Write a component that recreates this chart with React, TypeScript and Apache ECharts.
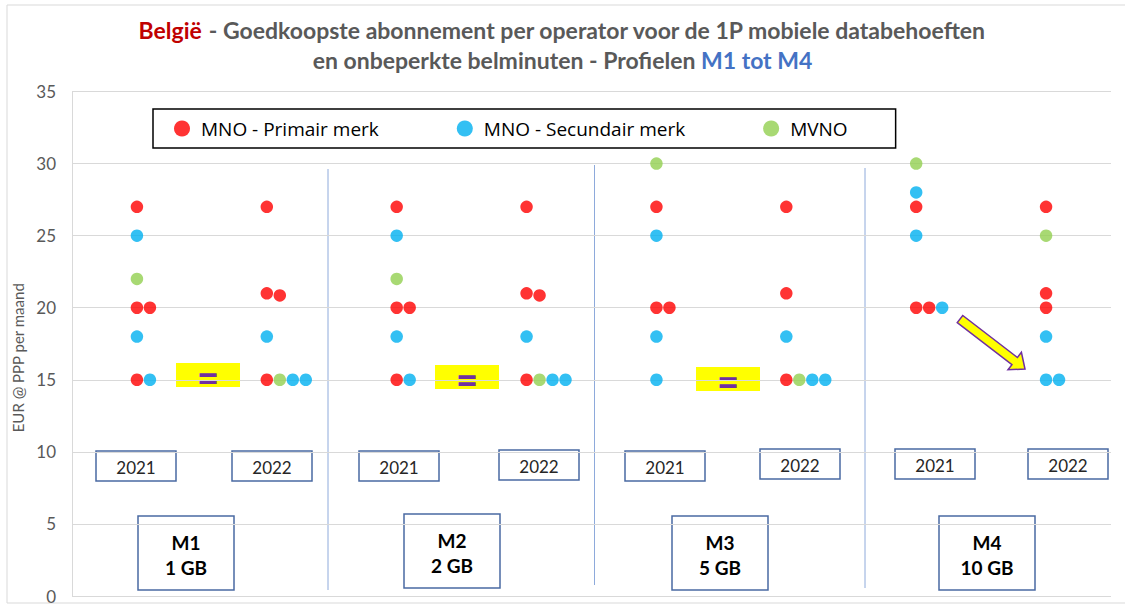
import React, { useEffect, useRef } from "react";
import * as echarts from "echarts";

// ---- data ----
const profiles = ["M1", "M2", "M3", "M4"];
const volumes = ["1 GB", "2 GB", "5 GB", "10 GB"];
const years = ["2021", "2022"];
const seriesNames = ["MNO - Primair merk", "MNO - Secundair merk", "MVNO"];
const seriesColors = ["#ff0000", "#00b0f0", "#92d050"];
// one list per column: M1-2021, M1-2022, M2-2021, M2-2022, M3-2021, M3-2022, M4-2021, M4-2022
const primair: number[][] = [
  [27, 20, 20, 15],
  [27, 21, 20.85, 15],
  [27, 20, 20, 15],
  [27, 21, 20.85, 15],
  [27, 20, 20],
  [27, 21, 15],
  [27, 20, 20],
  [27, 21, 20],
];
const secundair: number[][] = [
  [25, 18, 15],
  [18, 15, 15],
  [25, 18, 15],
  [18, 15, 15],
  [25, 18, 15],
  [18, 15, 15],
  [28, 25, 20],
  [18, 15, 15],
];
const mvno: number[][] = [[22], [15], [22], [15], [30], [15], [30], [25]];

// ---- build scatter points (dots with equal price sit side by side) ----
function buildPoints() {
  const out: number[][][] = [[], [], []];
  const order = [0, 2, 1]; // red, green, blue placement order within a row
  const src = [primair, secundair, mvno];
  for (let c = 0; c < primair.length; c++) {
    const count: Record<number, number> = {};
    for (const s of order) {
      for (const v of src[s][c]) {
        const k = Math.round(v);
        const idx = count[k] || 0;
        count[k] = idx + 1;
        out[s].push([c + 1 + idx * 0.1, v]);
      }
    }
  }
  return out;
}

function arrowPoints(x1: number, y1: number, x2: number, y2: number, shaft: number, headW: number, headL: number) {
  const dx = x2 - x1, dy = y2 - y1, L = Math.hypot(dx, dy);
  const ux = dx / L, uy = dy / L, nx = -uy, ny = ux;
  const bx = x2 - ux * headL, by = y2 - uy * headL;
  return [
    [x1 + (nx * shaft) / 2, y1 + (ny * shaft) / 2],
    [bx + (nx * shaft) / 2, by + (ny * shaft) / 2],
    [bx + (nx * headW) / 2, by + (ny * headW) / 2],
    [x2, y2],
    [bx - (nx * headW) / 2, by - (ny * headW) / 2],
    [bx - (nx * shaft) / 2, by - (ny * shaft) / 2],
    [x1 - (nx * shaft) / 2, y1 - (ny * shaft) / 2],
  ];
}

const boxColor = "#4a6aa2";
const yearBoxPos = [
  [96, 451], [232, 451], [359, 451], [499, 450], [625, 451], [760, 449], [895, 449], [1028, 449],
];
const profileBoxPos = [
  [138, 516], [404, 514], [672, 516], [939, 516],
];
const equalBoxPos = [
  [176, 363], [435, 365], [696, 367],
];
const dividerPos = [
  [328, 169, 590], [594.5, 165, 585], [865, 168, 588],
];

function buildGraphics() {
  const g: any[] = [];
  g.push({
    type: "rect", shape: { x: 7, y: 5, width: 1130, height: 598 },
    style: { fill: "none", stroke: "#d9d9d9", lineWidth: 1 }, silent: true, z: -1,
  });
  dividerPos.forEach(([x, y1, y2]) => {
    g.push({ type: "line", shape: { x1: x, y1, x2: x, y2 }, style: { stroke: "#8eaadb", lineWidth: 1 } });
  });
  yearBoxPos.forEach(([x, y], i) => {
    g.push({
      type: "group", x, y,
      children: [
        { type: "rect", shape: { x: 0, y: 0, width: 80, height: 30 }, style: { fill: "#fff", stroke: boxColor, lineWidth: 1.5 } },
        { type: "text", x: 40, y: 16, style: { text: years[i % 2], fill: "#262626", font: "17px Lato", textAlign: "center", textVerticalAlign: "middle" } },
      ],
    });
  });
  profileBoxPos.forEach(([x, y], i) => {
    g.push({
      type: "group", x, y,
      children: [
        { type: "rect", shape: { x: 0, y: 0, width: 96, height: 74 }, style: { fill: "#fff", stroke: boxColor, lineWidth: 1.5 } },
        { type: "text", x: 48, y: 26, style: { text: profiles[i], fill: "#000", font: "bold 19px Lato", textAlign: "center", textVerticalAlign: "middle" } },
        { type: "text", x: 48, y: 51, style: { text: volumes[i], fill: "#000", font: "bold 19px Lato", textAlign: "center", textVerticalAlign: "middle" } },
      ],
    });
  });
  equalBoxPos.forEach(([x, y]) => {
    g.push({
      type: "group", x, y,
      children: [
        { type: "rect", shape: { x: 0, y: 0, width: 64, height: 24 }, style: { fill: "#ffff00" } },
        { type: "text", x: 32, y: 13, style: { text: "=", fill: "#7030a0", font: "900 38px Lato", textAlign: "center", textVerticalAlign: "middle" } },
      ],
    });
  });
  g.push({
    type: "polygon",
    shape: { points: arrowPoints(960, 319, 1025, 369, 9, 22, 13) },
    style: { fill: "#ffff00", stroke: "#7030a0", lineWidth: 1.5 },
  });
  return g;
}

export default function App() {
  const ref = useRef<HTMLDivElement>(null);
  useEffect(() => {
    const chart = echarts.init(ref.current!, null, { renderer: "svg" });
    const pts = buildPoints();
    const titleFont = { fontSize: 23, fontWeight: "bold", fontFamily: "Lato", lineHeight: 30 };
    chart.setOption({
      animation: false,
      backgroundColor: "#ffffff",
      title: {
        left: "center",
        top: 10,
        text:
          "{r|België}{g| - Goedkoopste abonnement per operator voor de 1P mobiele databehoeften}\n{g|en onbeperkte belminuten - Profielen }{b|M1 tot M4}",
        textStyle: {
          rich: {
            r: { color: "#c00000", ...titleFont },
            g: { color: "#595959", ...titleFont },
            b: { color: "#4472c4", ...titleFont },
          },
        },
      },
      legend: {
        left: 153,
        top: 109,
        itemGap: 78,
        itemWidth: 16,
        itemHeight: 16,
        padding: [10, 48, 10, 21],
        borderColor: "#000",
        borderWidth: 1.5,
        icon: "circle",
        textStyle: { fontFamily: "Open Sans", fontSize: 19, color: "#000", padding: [0, 0, 0, 6] },
        data: seriesNames,
      },
      grid: { left: 72, right: 14, top: 91.5, bottom: 11 },
      xAxis: { type: "value", min: 0.5, max: 8.5, show: false },
      yAxis: {
        type: "value",
        min: 0,
        max: 35,
        interval: 5,
        name: "EUR @ PPP per maand",
        nameLocation: "middle",
        nameGap: 28,
        nameTextStyle: { fontFamily: "Lato", fontSize: 15, color: "#595959", padding: [0, 28, 0, 0] },
        axisLine: { show: true, lineStyle: { color: "#d9d9d9", width: 1 } },
        axisTick: { show: false },
        axisLabel: { fontFamily: "Lato", fontSize: 17, color: "#595959", margin: 16 },
        splitLine: { lineStyle: { color: "#d9d9d9", width: 1 } },
      },
      series: seriesNames.map((name, i) => ({
        name,
        type: "scatter",
        symbol: "circle",
        symbolSize: 12.5,
        itemStyle: { color: seriesColors[i] },
        data: pts[i],
      })),
      graphic: buildGraphics(),
    });
    return () => chart.dispose();
  }, []);
  return (
    <div
      ref={ref}
      style={{ position: "absolute", left: 0, top: 0, width: 1125, height: 607, background: "#fff" }}
    />
  );
}
